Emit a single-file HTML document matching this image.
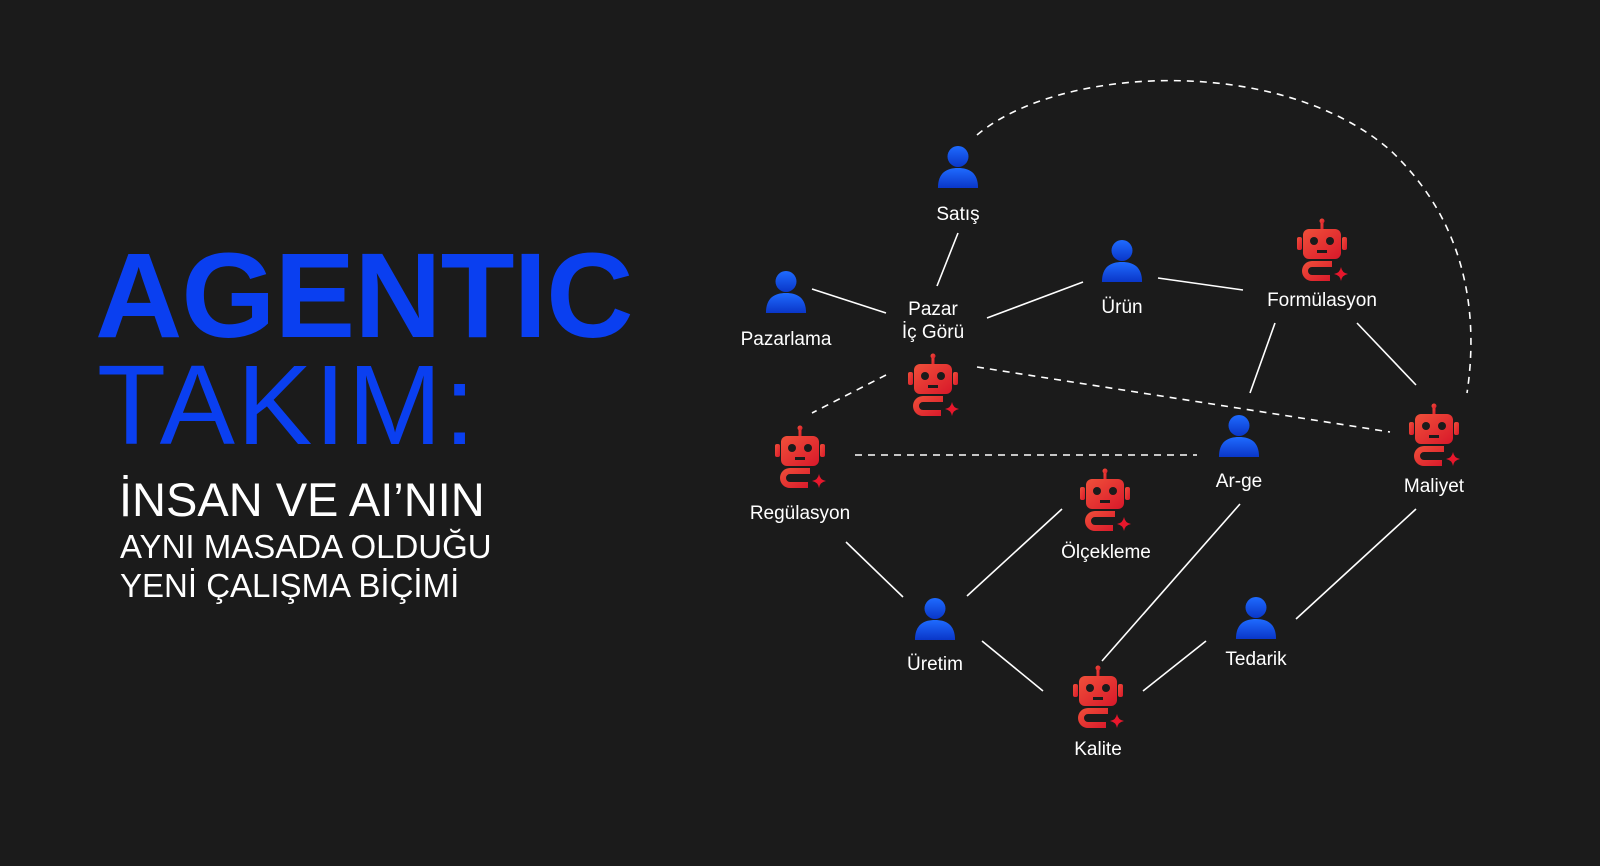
<!DOCTYPE html>
<html><head><meta charset="utf-8"><style>
html,body{margin:0;padding:0;background:#1b1b1b;}
body{width:1600px;height:866px;overflow:hidden;position:relative;font-family:"Liberation Sans",sans-serif;}
.t{position:absolute;white-space:nowrap;}
</style></head><body>
<div class="t" style="left:95px;top:230px;font-size:121px;font-weight:bold;color:#0a3ff0;letter-spacing:-1px;line-height:130px;">AGENTIC</div>
<div class="t" style="left:97px;top:345px;font-size:113px;color:#0a3ff0;letter-spacing:2px;line-height:120px;">TAKIM:</div>
<div class="t" style="left:119px;top:472px;font-size:47px;color:#fff;line-height:56px;">İNSAN VE AI’NIN</div>
<div class="t" style="left:120px;top:527px;font-size:33px;color:#fff;line-height:40px;">AYNI MASADA OLDUĞU</div>
<div class="t" style="left:120px;top:566px;font-size:33px;color:#fff;line-height:40px;">YENİ ÇALIŞMA BİÇİMİ</div>
<svg width="1600" height="866" style="position:absolute;left:0;top:0">
<defs>
<linearGradient id="bg" x1="0" y1="0" x2="0" y2="1"><stop offset="0" stop-color="#1f6bff"/><stop offset="1" stop-color="#0a36c8"/></linearGradient>
<linearGradient id="rg" x1="0" y1="0" x2="1" y2="1"><stop offset="0" stop-color="#f0503a"/><stop offset="1" stop-color="#d8182a"/></linearGradient>
<symbol id="person" viewBox="-22 -24 44 48" overflow="visible">
<circle cx="0" cy="-11" r="11" fill="url(#bg)"/>
<path d="M-21,22 C-21,6 -12,1 0,1 C12,1 21,6 21,22 Z" fill="url(#bg)"/>
</symbol>
<symbol id="robot" viewBox="-28 -30 56 60" overflow="visible">
<g fill="url(#rg)">
<rect x="-1.5" y="-29" width="3" height="9"/><circle cx="0" cy="-29" r="2.5"/>
<rect x="-19" y="-21" width="38" height="30" rx="6"/>
<rect x="-25" y="-13" width="5" height="13" rx="2"/><rect x="20" y="-13" width="5" height="13" rx="2"/>
<path d="M-10,11 H10 V17 H-10 A4,4 0 0 0 -10,25 H8 V31 H-10 A10,10 0 0 1 -10,11 Z"/>
</g>
<circle cx="-8" cy="-9" r="4" fill="#1b1b1b"/><circle cx="8" cy="-9" r="4" fill="#1b1b1b"/>
<rect x="-5" y="0" width="10" height="3" fill="#1b1b1b"/>
<path d="M19,17 Q20,23 26,24 Q20,25 19,31 Q18,25 12,24 Q18,23 19,17Z" fill="#e8172c"/>
</symbol>
</defs>
<g stroke="#fff" stroke-width="1.6" fill="none">
<line x1="958" y1="233" x2="937" y2="286"/>
<line x1="812" y1="289" x2="886" y2="313"/>
<line x1="987" y1="318" x2="1083" y2="282"/>
<line x1="1158" y1="278" x2="1243" y2="290"/>
<line x1="1275" y1="323" x2="1250" y2="393"/>
<line x1="1357" y1="323" x2="1416" y2="385"/>
<line x1="846" y1="542" x2="903" y2="597"/>
<line x1="967" y1="596" x2="1062" y2="509"/>
<line x1="982" y1="641" x2="1043" y2="691"/>
<line x1="1143" y1="691" x2="1206" y2="641"/>
<line x1="1102" y1="661" x2="1240" y2="504"/>
<line x1="1296" y1="619" x2="1416" y2="509"/>
<g stroke-dasharray="7,6">
<line x1="886" y1="375" x2="812" y2="413"/>
<line x1="977" y1="367" x2="1390" y2="432"/>
<line x1="855" y1="455" x2="1197" y2="455"/>
<path d="M977,135 C1060,65 1280,55 1390,150 C1470,225 1478,320 1467,393"/>
</g>
</g>
<use href="#person" x="937" y="144" width="42" height="46"/>
<use href="#person" x="765" y="269" width="42" height="46"/>
<use href="#person" x="1101" y="238" width="42" height="46"/>
<use href="#person" x="1218" y="413" width="42" height="46"/>
<use href="#person" x="914" y="596" width="42" height="46"/>
<use href="#person" x="1235" y="595" width="42" height="46"/>
<use href="#robot" x="905" y="355" width="56" height="60"/>
<use href="#robot" x="1294" y="220" width="56" height="60"/>
<use href="#robot" x="772" y="427" width="56" height="60"/>
<use href="#robot" x="1406" y="405" width="56" height="60"/>
<use href="#robot" x="1077" y="470" width="56" height="60"/>
<use href="#robot" x="1070" y="667" width="56" height="60"/>
<g fill="#fff" font-family="Liberation Sans, sans-serif" font-size="19" text-anchor="middle">
<text x="958" y="220">Satış</text>
<text x="786" y="345">Pazarlama</text>
<text x="933" y="315">Pazar</text>
<text x="933" y="338">İç Görü</text>
<text x="1122" y="313">Ürün</text>
<text x="1322" y="306">Formülasyon</text>
<text x="800" y="519">Regülasyon</text>
<text x="1239" y="487">Ar-ge</text>
<text x="1434" y="492">Maliyet</text>
<text x="1106" y="558">Ölçekleme</text>
<text x="935" y="670">Üretim</text>
<text x="1256" y="665">Tedarik</text>
<text x="1098" y="755">Kalite</text>
</g>
</svg>
</body></html>
